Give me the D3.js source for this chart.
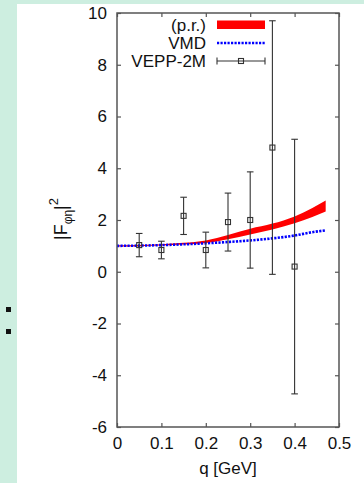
<!DOCTYPE html>
<html>
<head>
<meta charset="utf-8">
<script src="https://cdn.jsdelivr.net/npm/d3@7"></script>
<style>
  html, body { margin: 0; padding: 0; background: #cdeee0; }
  svg { display: block; }
  text { font-family: "Liberation Sans", Arial, sans-serif; fill: #111; }
</style>
</head>
<body>
<script>
// data
const dataQ = [0.05, 0.1, 0.15, 0.2, 0.25, 0.3, 0.35, 0.4];
const dataF = [1.03, 0.84, 2.16, 0.84, 1.92, 2.0, 4.8, 0.2];
const dataErr = [0.45, 0.34, 0.72, 0.69, 1.12, 1.86, 4.9, 4.92];

const curveQ = [0, 0.05, 0.1, 0.15, 0.2, 0.25, 0.3, 0.35, 0.4, 0.44, 0.47];
const bandLow = [0.98, 0.99, 1.01, 1.05, 1.11, 1.26, 1.44, 1.63, 1.87, 2.12, 2.33];
const bandHigh = [1.02, 1.03, 1.06, 1.12, 1.21, 1.42, 1.66, 1.86, 2.14, 2.46, 2.75];
const vmd = [1.0, 1.01, 1.03, 1.06, 1.10, 1.15, 1.21, 1.29, 1.40, 1.53, 1.60];

const xTicks = [0, 0.1, 0.2, 0.3, 0.4, 0.5];
const yTicks = [-6, -4, -2, 0, 2, 4, 6, 8, 10];

const W = 364, H = 483;
const svg = d3.select("body").append("svg").attr("width", W).attr("height", H);

// white slide panel and bullets
svg.append("rect").attr("x", 17).attr("y", 4).attr("width", W - 17).attr("height", H - 4).attr("fill", "#fff");
svg.selectAll(".bullet").data([307, 329]).join("rect")
  .attr("class", "bullet")
  .attr("x", 6).attr("y", d => d).attr("width", 5).attr("height", 5).attr("fill", "#111");

const pLeft = 117, pRight = 339, pTop = 13, pBottom = 427;
const x = d3.scaleLinear().domain([0, 0.5]).range([pLeft, pRight]);
const y = d3.scaleLinear().domain([-6, 10]).range([pBottom, pTop]);

const frameColor = "#555";

// band
const band = curveQ.map((q, i) => ({q: q, lo: bandLow[i], hi: bandHigh[i], v: vmd[i]}));
svg.append("path")
  .datum(band)
  .attr("fill", "#ff0000")
  .attr("d", d3.area().x(d => x(d.q)).y0(d => y(d.lo)).y1(d => y(d.hi)).curve(d3.curveMonotoneX));

// VMD
svg.append("path")
  .datum(band)
  .attr("fill", "none")
  .attr("stroke", "#0000ff")
  .attr("stroke-width", 2.6)
  .attr("stroke-dasharray", "2.2,1.3")
  .attr("d", d3.line().x(d => x(d.q)).y(d => y(d.v)).curve(d3.curveMonotoneX));

// error bars
const pts = dataQ.map((q, i) => ({q: q, f: dataF[i], e: dataErr[i]}));
const eb = svg.append("g").attr("stroke", "#333").attr("stroke-width", 1.1).attr("fill", "none");
eb.selectAll(".v").data(pts).join("line")
  .attr("x1", d => x(d.q)).attr("x2", d => x(d.q))
  .attr("y1", d => y(d.f - d.e)).attr("y2", d => y(d.f + d.e));
eb.selectAll(".ct").data(pts).join("line")
  .attr("x1", d => x(d.q) - 3.3).attr("x2", d => x(d.q) + 3.3)
  .attr("y1", d => y(d.f + d.e)).attr("y2", d => y(d.f + d.e));
eb.selectAll(".cb").data(pts).join("line")
  .attr("x1", d => x(d.q) - 3.3).attr("x2", d => x(d.q) + 3.3)
  .attr("y1", d => y(d.f - d.e)).attr("y2", d => y(d.f - d.e));
eb.selectAll("rect").data(pts).join("rect")
  .attr("x", d => x(d.q) - 2.5).attr("y", d => y(d.f) - 2.5)
  .attr("width", 5).attr("height", 5);

// axes with inward ticks
function styleAxis(g) {
  g.select(".domain").remove();
  g.selectAll(".tick line").attr("stroke", frameColor).attr("stroke-width", 1.2);
  g.selectAll(".tick text").style("font-size", "17px").attr("fill", "#111");
}
svg.append("g").attr("transform", `translate(${pLeft},0)`)
  .call(d3.axisLeft(y).tickValues(yTicks).tickSize(-4).tickPadding(10).tickFormat(d => String(d)))
  .call(styleAxis);
svg.append("g").attr("transform", `translate(${pRight},0)`)
  .call(d3.axisRight(y).tickValues(yTicks).tickSize(-4).tickFormat(""))
  .call(styleAxis);
svg.append("g").attr("transform", `translate(0,${pBottom})`)
  .call(d3.axisBottom(x).tickValues(xTicks).tickSize(-4).tickPadding(10).tickFormat(d => String(d)))
  .call(styleAxis);
svg.append("g").attr("transform", `translate(0,${pTop})`)
  .call(d3.axisTop(x).tickValues(xTicks).tickSize(-4).tickFormat(""))
  .call(styleAxis);

svg.append("rect")
  .attr("x", pLeft).attr("y", pTop).attr("width", pRight - pLeft).attr("height", pBottom - pTop)
  .attr("fill", "none").attr("stroke", frameColor).attr("stroke-width", 1.5);

// axis labels
svg.append("text")
  .attr("x", (pLeft + pRight) / 2).attr("y", 474)
  .attr("text-anchor", "middle").style("font-size", "17px")
  .text("q [GeV]");

const yl = svg.append("text")
  .attr("transform", "translate(67,219) rotate(-90)")
  .attr("text-anchor", "middle").style("font-size", "18px");
yl.append("tspan").text("|F");
yl.append("tspan").attr("dy", 5).style("font-size", "12px").text("φη");
yl.append("tspan").attr("dy", -5).text("|");
yl.append("tspan").attr("dy", -9).style("font-size", "13px").text("2");

// legend
const lg = svg.append("g");
const legendNames = ["(p.r.)", "VMD", "VEPP-2M"];
const legendY = [25, 43, 61];
lg.selectAll("text").data(legendNames).join("text")
  .attr("x", 206).attr("y", (d, i) => legendY[i] + 6)
  .attr("text-anchor", "end").style("font-size", "17px")
  .text(d => d);
lg.append("rect").attr("x", 217).attr("y", 20.5).attr("width", 48).attr("height", 8.5).attr("fill", "#ff0000");
lg.append("line").attr("x1", 217).attr("x2", 265).attr("y1", legendY[1]).attr("y2", legendY[1])
  .attr("stroke", "#0000ff").attr("stroke-width", 2.6).attr("stroke-dasharray", "2.2,1.3");
const le = lg.append("g").attr("stroke", "#333").attr("stroke-width", 1.1).attr("fill", "none");
le.append("line").attr("x1", 217).attr("x2", 265).attr("y1", legendY[2]).attr("y2", legendY[2]);
le.append("line").attr("x1", 217).attr("x2", 217).attr("y1", legendY[2] - 3.5).attr("y2", legendY[2] + 3.5);
le.append("line").attr("x1", 265).attr("x2", 265).attr("y1", legendY[2] - 3.5).attr("y2", legendY[2] + 3.5);
le.append("rect").attr("x", 238.5).attr("y", legendY[2] - 2.5).attr("width", 5).attr("height", 5);
</script>
</body>
</html>
